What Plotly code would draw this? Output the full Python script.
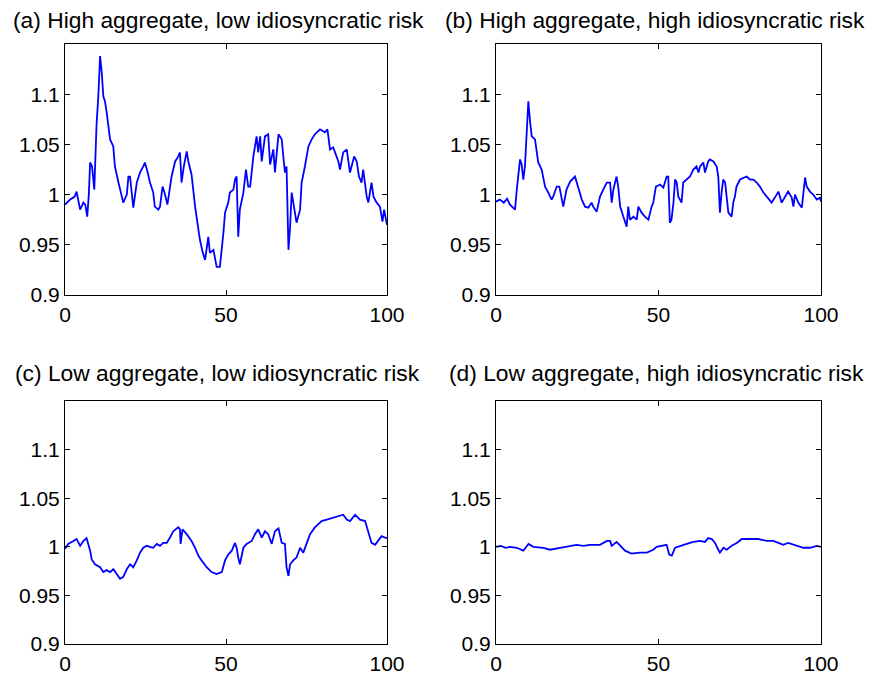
import plotly.graph_objects as go

# ---------------- data ----------------
titles = [
    "(a) High aggregate, low idiosyncratic risk",
    "(b) High aggregate, high idiosyncratic risk",
    "(c) Low aggregate, low idiosyncratic risk",
    "(d) Low aggregate, high idiosyncratic risk",
]

xa = [0, 1.55, 3.0, 3.6, 4.7, 5.7, 6.3, 6.9, 7.4, 7.8, 8.4, 9.1, 9.8, 10.35, 10.9, 11.4, 11.9, 12.4, 12.9, 13.5,
      14.0, 15.0, 15.5, 16.6, 17.6, 18.1, 19.2, 19.7, 20.2, 20.7, 21.2, 22.3, 23.3, 24.3, 24.8, 25.6, 26.4, 27.4,
      27.9, 29.0, 29.5, 30.3, 30.9, 31.8, 32.6, 33.1, 34.2, 35.2, 35.7, 36.2, 36.9, 37.8, 38.3, 39.3, 40.4, 40.9,
      41.4, 41.9, 42.8, 43.5, 44.5, 45.0, 46.1, 46.6, 47.1, 48.1, 48.7, 49.2, 49.7, 50.7, 51.2, 52.3, 52.8, 53.3,
      53.8, 54.3, 55.4, 56.2, 56.9, 57.5, 58.5, 59.5, 60.0, 60.6, 61.1, 62.1, 63.1, 63.7, 64.7, 65.2, 66.3, 67.3,
      67.8, 68.3, 68.8, 69.4, 69.9, 70.4, 70.9, 71.9, 73.0, 73.5, 74.5, 75.6, 76.6, 77.6, 79.2, 80.7, 81.5, 82.3,
      83.3, 83.8, 84.9, 85.4, 86.4, 87.5, 88.0, 88.5, 89.8, 90.6, 91.3, 92.1, 92.6, 93.7, 94.2, 95.2, 95.8, 96.8,
      97.8, 98.6, 99.1, 100]
ya = [0.990, 0.995, 0.998, 1.003, 0.985, 0.992, 0.990, 0.978, 1.000, 1.032, 1.028, 1.005, 1.070, 1.098, 1.138,
      1.122, 1.098, 1.093, 1.083, 1.065, 1.055, 1.048, 1.028, 1.012, 0.998, 0.992, 1.000, 1.018, 1.018, 1.002,
      0.987, 1.012, 1.022, 1.028, 1.032, 1.023, 1.012, 1.002, 0.988, 0.985, 0.988, 1.008, 1.002, 0.990, 1.008,
      1.018, 1.033, 1.038, 1.042, 1.012, 1.028, 1.043, 1.033, 1.020, 0.988, 0.975, 0.962, 0.955, 0.942, 0.935,
      0.958, 0.942, 0.945, 0.935, 0.928, 0.928, 0.945, 0.962, 0.982, 0.992, 1.002, 1.005, 1.015, 1.018, 0.958,
      0.985, 1.002, 1.025, 1.008, 1.008, 1.038, 1.058, 1.042, 1.058, 1.033, 1.058, 1.060, 1.030, 1.045, 1.022,
      1.060, 1.055, 1.038, 1.022, 1.028, 0.945, 0.968, 1.002, 0.992, 0.972, 0.985, 1.012, 1.028, 1.048, 1.055,
      1.060, 1.065, 1.062, 1.065, 1.045, 1.047, 1.042, 1.033, 1.025, 1.042, 1.045, 1.033, 1.022, 1.038, 1.033,
      1.018, 1.012, 1.025, 0.998, 0.992, 1.012, 0.998, 0.992, 0.988, 0.973, 0.985, 0.970]

xb = [0, 1.2, 2.4, 3.4, 4.3, 5.85, 6.4, 6.9, 7.4, 7.9, 8.4, 8.9, 9.4, 9.95, 10.5, 11.0, 12.0, 12.5, 13.0, 14.05,
      15.1, 16.1, 17.1, 17.6, 18.7, 19.5, 19.9, 20.7, 21.7, 22.8, 24.3, 25.3, 26.4, 27.4, 28.4, 29.4, 29.9, 31.0,
      32.0, 33.0, 34.1, 35.1, 35.6, 36.1, 37.1, 37.6, 38.2, 39.2, 40.2, 40.7, 41.2, 42.3, 43.3, 43.8, 44.8, 45.8,
      46.9, 47.9, 48.4, 49.2, 50.5, 51.5, 52.5, 53.0, 53.5, 54.0, 54.6, 55.1, 55.6, 56.1, 57.1, 57.6, 58.7, 59.7,
      60.7, 61.7, 62.3, 62.8, 63.8, 64.3, 65.3, 65.8, 66.9, 67.9, 68.4, 68.9, 69.4, 69.9, 70.5, 71.0, 71.5, 72.5,
      73.0, 73.5, 74.0, 75.1, 77.1, 78.2, 79.2, 80.2, 81.2, 82.3, 83.3, 84.8, 85.8, 86.9, 87.9, 88.9, 89.9, 91.0,
      91.5, 92.0, 93.0, 94.1, 94.6, 95.1, 95.6, 96.6, 97.6, 98.7, 99.7, 100]
yb = [0.993, 0.995, 0.992, 0.996, 0.990, 0.985, 1.005, 1.018, 1.035, 1.030, 1.015, 1.028, 1.058, 1.093, 1.072,
      1.058, 1.055, 1.042, 1.032, 1.025, 1.008, 1.002, 0.995, 0.998, 1.008, 1.008, 1.002, 0.988, 1.005, 1.013,
      1.018, 1.008, 0.995, 0.988, 0.987, 0.992, 0.988, 0.983, 0.998, 1.005, 1.012, 1.012, 0.992, 1.005, 1.018,
      1.008, 0.988, 0.978, 0.968, 0.988, 0.975, 0.978, 0.975, 0.988, 0.982, 0.978, 0.975, 0.988, 0.992, 1.008,
      1.010, 1.007, 1.018, 1.018, 0.972, 0.975, 0.992, 1.015, 1.012, 0.998, 0.992, 1.012, 1.015, 1.018, 1.025,
      1.028, 1.022, 1.028, 1.032, 1.022, 1.033, 1.035, 1.033, 1.028, 1.018, 0.982, 1.002, 1.015, 1.012, 0.998,
      0.982, 0.978, 0.992, 0.998, 1.008, 1.015, 1.018, 1.015, 1.015, 1.012, 1.008, 1.002, 0.998, 0.992, 0.997,
      1.003, 0.992, 0.998, 1.003, 0.997, 0.988, 1.000, 0.992, 0.987, 1.002, 1.017, 1.008, 1.003, 1.000, 0.995,
      0.997, 0.993]

xc = [0, 1.0, 2.6, 3.6, 4.7, 5.7, 6.7, 7.8, 8.3, 9.3, 10.9, 11.9, 12.9, 14.0, 15.0, 16.0, 17.1, 18.1, 19.2, 20.2,
      21.2, 22.3, 23.3, 24.3, 25.4, 26.4, 27.4, 28.5, 29.5, 30.5, 31.6, 32.6, 33.6, 35.2, 35.7, 35.9, 36.5, 37.8,
      39.3, 40.4, 41.4, 42.4, 44.0, 45.5, 47.1, 48.7, 49.7, 50.7, 51.8, 52.8, 53.3, 53.8, 54.3, 55.4, 56.4, 58.0,
      59.0, 60.0, 61.1, 62.1, 63.1, 64.2, 65.2, 66.3, 67.3, 68.3, 68.8, 69.4, 69.9, 70.9, 71.9, 73.0, 74.0, 75.0,
      76.1, 77.6, 79.7, 81.3, 83.3, 84.9, 86.4, 87.5, 88.5, 90.1, 91.6, 93.2, 94.2, 95.2, 96.3, 97.3, 98.3, 99.4,
      100]
yc = [0.998, 1.003, 1.006, 1.008, 1.001, 1.006, 1.009, 0.996, 0.987, 0.982, 0.979, 0.974, 0.976, 0.974, 0.977,
      0.972, 0.967, 0.969, 0.977, 0.982, 0.979, 0.986, 0.994, 0.999, 1.001, 1.000, 0.999, 1.003, 1.001, 1.004,
      1.004, 1.0095, 1.016, 1.020, 1.018, 1.003, 1.018, 1.013, 1.006, 0.999, 0.991, 0.986, 0.979, 0.974, 0.972,
      0.974, 0.986, 0.992, 0.996, 1.004, 0.999, 0.989, 0.982, 0.999, 1.003, 1.006, 1.013, 1.018, 1.0095, 1.016,
      1.013, 1.003, 1.016, 1.019, 1.004, 1.003, 0.979, 0.970, 0.982, 0.986, 0.989, 0.999, 0.994, 1.003, 1.013,
      1.020, 1.0265, 1.028, 1.030, 1.032, 1.033, 1.028, 1.0265, 1.033, 1.028, 1.0265, 1.016, 1.004, 1.002, 1.007,
      1.011, 1.0095, 1.009]

xd = [0, 1.5, 3.0, 4.3, 6.4, 8.4, 10.0, 11.5, 14.6, 16.6, 19.7, 21.7, 24.8, 26.9, 28.9, 32.0, 34.1, 35.1, 35.6,
      37.1, 38.2, 39.7, 41.7, 44.3, 46.4, 48.4, 49.4, 52.5, 53.3, 54.1, 55.1, 56.6, 58.7, 60.7, 62.8, 64.3, 65.3,
      66.4, 67.4, 68.4, 68.9, 70.0, 71.0, 72.5, 74.1, 75.6, 78.2, 80.7, 83.3, 85.3, 86.9, 88.4, 89.9, 92.0, 94.6,
      96.6, 98.7, 100]
yd = [1.000, 1.001, 0.999, 1.000, 0.999, 0.996, 1.003, 1.000, 0.999, 0.997, 0.999, 1.000, 1.002, 1.001, 1.002,
      1.002, 1.006, 1.006, 1.001, 1.005, 1.001, 0.996, 0.993, 0.994, 0.994, 0.997, 1.000, 1.002, 0.992, 0.991,
      0.999, 1.001, 1.003, 1.005, 1.006, 1.005, 1.009, 1.008, 1.004, 0.997, 0.994, 0.999, 0.997, 1.001, 1.004,
      1.008, 1.008, 1.008, 1.006, 1.006, 1.004, 1.002, 1.004, 1.002, 0.999, 0.999, 1.001, 1.000]

x_ticks = [0, 50, 100]
x_tick_text = ["0", "50", "100"]
y_ticks = [0.9, 0.95, 1.0, 1.05, 1.1]
y_tick_text = ["0.9", "0.95", "1", "1.05", "1.1"]

series = [(xa, ya), (xb, yb), (xc, yc), (xd, yd)]

# ---------------- layout geometry ----------------
W, H = 869, 677
x_dom = [[65 / W, 387 / W], [496 / W, 821 / W]]
y_dom = [[1 - 295 / H, 1 - 44 / H], [1 - 644 / H, 1 - 401 / H]]
# centre of each panel title in pixels
title_pos = [(218, 20), (655, 20), (217, 373), (656, 373)]

FONT = "Liberation Sans, Arial, sans-serif"
fig = go.Figure()
layout = dict(
    template="none",
    width=W, height=H, margin=dict(l=0, r=0, t=0, b=0, pad=0, autoexpand=False),
    paper_bgcolor="white", plot_bgcolor="white", showlegend=False,
    font=dict(family=FONT, size=21, color="black"),
)
annotations = []
for i, (xs, ys) in enumerate(series):
    r, c = divmod(i, 2)
    sfx = "" if i == 0 else str(i + 1)
    fig.add_trace(go.Scatter(x=xs, y=ys, mode="lines",
                             line=dict(color="#0000ff", width=1.8),
                             xaxis="x" + sfx, yaxis="y" + sfx, hoverinfo="skip"))
    layout["xaxis" + sfx] = dict(
        domain=x_dom[c], anchor="y" + sfx, range=[0, 100], automargin=False,
        tickvals=x_ticks, ticktext=x_tick_text, ticks="inside", ticklen=5,
        tickcolor="black", showline=True, linecolor="black", linewidth=1,
        mirror="ticks", showgrid=False, zeroline=False, fixedrange=True,
        tickfont=dict(size=21), ticklabelstandoff=1,
    )
    layout["yaxis" + sfx] = dict(
        domain=y_dom[r], anchor="x" + sfx, range=[0.9, 1.15], automargin=False,
        tickvals=y_ticks, ticktext=y_tick_text, ticks="inside", ticklen=5,
        tickcolor="black", showline=True, linecolor="black", linewidth=1,
        mirror="ticks", showgrid=False, zeroline=False, fixedrange=True,
        tickfont=dict(size=21),
    )
    tx, ty = title_pos[i]
    annotations.append(dict(text=titles[i], xref="paper", yref="paper",
                            x=tx / W, y=1 - ty / H, xanchor="center", yanchor="middle",
                            showarrow=False, borderpad=0,
                            font=dict(size=22.8, family=FONT)))
layout["annotations"] = annotations
fig.update_layout(**layout)
fig.write_html("out.html")
